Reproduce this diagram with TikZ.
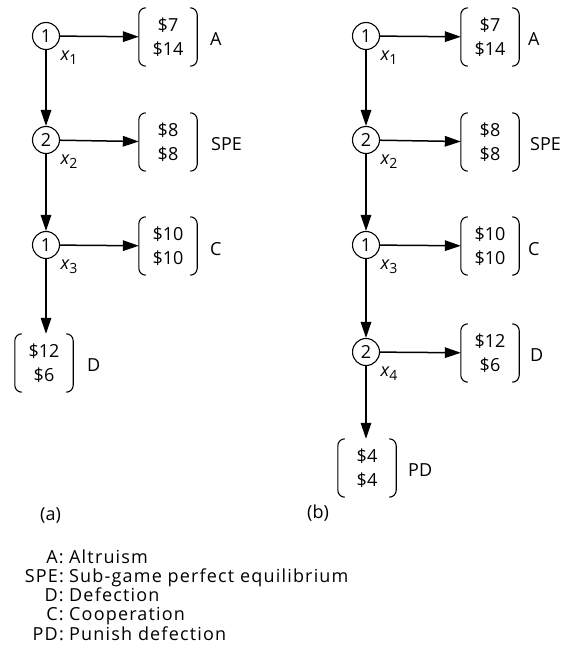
\documentclass[tikz,border=0pt]{standalone}
\usepackage{fontspec}
\setmainfont{Open Sans}
\usetikzlibrary{arrows.meta}
\newcommand{\xsub}[1]{{\itshape x}\kern0.3pt\raisebox{-4pt}{\fontsize{14}{14}\selectfont #1}}
\begin{document}
\begin{tikzpicture}[x=1pt,y=-1pt,
  every node/.style={font=\fontsize{18}{24}\selectfont},
  dec/.style={circle,draw,line width=1.1pt,minimum size=27pt,inner sep=0pt},
  payoff/.style={rectangle,minimum width=58pt,minimum height=58pt,inner sep=0pt,align=center},
  bracket/.style={line width=1.1pt,rounded corners=7pt},
  move/.style={line width=1.5pt,-{Triangle[length=16pt,width=10.5pt]}},
  tag/.style={anchor=base west,inner sep=0pt},
  xl/.style={inner sep=0pt},
  legend/.style={inner sep=0pt,font=\fontsize{18}{24}\selectfont\addfontfeature{LetterSpace=6.5}}]
\useasboundingbox (0,0) rectangle (571,658);
% ---------- (a) ----------
\node[dec] (a1) at (46,36) {1};
\node[dec] (a2) at (46,140) {2};
\node[dec] (a3) at (46,245) {1};
\node[xl] (ax1) at (69,58) {\xsub{1}};
\node[xl] (ax2) at (69,162) {\xsub{2}};
\node[xl] (ax3) at (69,267) {\xsub{3}};
\node[payoff] (aA) at (168,37) {\$7\\\$14};
\node[payoff] (aS) at (168,142) {\$8\\\$8};
\node[payoff] (aC) at (168,246) {\$10\\\$10};
\node[payoff] (aD) at (44,363) {\$12\\\$6};
\node[tag] (aAl) at (210,46) {A};
\node[tag] (aSl) at (211,150) {SPE};
\node[tag] (aCl) at (210,255) {C};
\node[tag] (aDl) at (87,371) {D};
\draw[move] (a1) -- (aA);
\draw[move] (a2) -- (aS);
\draw[move] (a3) -- (aC);
\draw[move] (a1) -- (a2);
\draw[move] (a2) -- (a3);
\draw[move] (a3) -- (a3 |- aD.north);
\node[tag] (la) at (40,520) {(a)};
% ---------- (b) ----------
\node[dec] (b1) at (366,36) {1};
\node[dec] (b2) at (366,140) {2};
\node[dec] (b3) at (366,245) {1};
\node[dec] (b4) at (366,352) {2};
\node[xl] (bx1) at (389,58) {\xsub{1}};
\node[xl] (bx2) at (389,162) {\xsub{2}};
\node[xl] (bx3) at (389,267) {\xsub{3}};
\node[xl] (bx4) at (389,374) {\xsub{4}};
\node[payoff] (bA) at (490,37) {\$7\\\$14};
\node[payoff] (bS) at (490,142) {\$8\\\$8};
\node[payoff] (bC) at (490,246) {\$10\\\$10};
\node[payoff] (bD) at (490,353) {\$12\\\$6};
\node[payoff] (bP) at (367,468) {\$4\\\$4};
\node[tag] (bAl) at (528,46) {A};
\node[tag] (bSl) at (530,150) {SPE};
\node[tag] (bCl) at (528,255) {C};
\node[tag] (bDl) at (530,361) {D};
\node[tag] (bPl) at (408,476) {PD};
\draw[move] (b1) -- (bA);
\draw[move] (b2) -- (bS);
\draw[move] (b3) -- (bC);
\draw[move] (b4) -- (bD);
\draw[move] (b1) -- (b2);
\draw[move] (b2) -- (b3);
\draw[move] (b3) -- (b4);
\draw[move] (b4) -- (b4 |- bP.north);
\node[tag] (lb) at (307,518) {(b)};
% ---------- brackets ----------
\foreach \n in {aA,aS,aC,aD,bA,bS,bC,bD,bP}{
  \draw[bracket] ([xshift=7pt]\n.north west) -- (\n.north west) -- (\n.south west) -- ([xshift=7pt]\n.south west);
  \draw[bracket] ([xshift=-7pt]\n.north east) -- (\n.north east) -- (\n.south east) -- ([xshift=-7pt]\n.south east);
}
% ---------- legend ----------
\foreach \k/\d/\y [count=\i] in {A/Altruism/563, SPE/Sub-game perfect equilibrium/582, D/Defection/601, C/Cooperation/620, PD/Punish defection/640}{
  \node[legend,anchor=base east] (k\i) at (64,\y) {\k:};
  \node[legend,anchor=base west] (d\i) at (69,\y) {\d};
}
\end{tikzpicture}
\end{document}
